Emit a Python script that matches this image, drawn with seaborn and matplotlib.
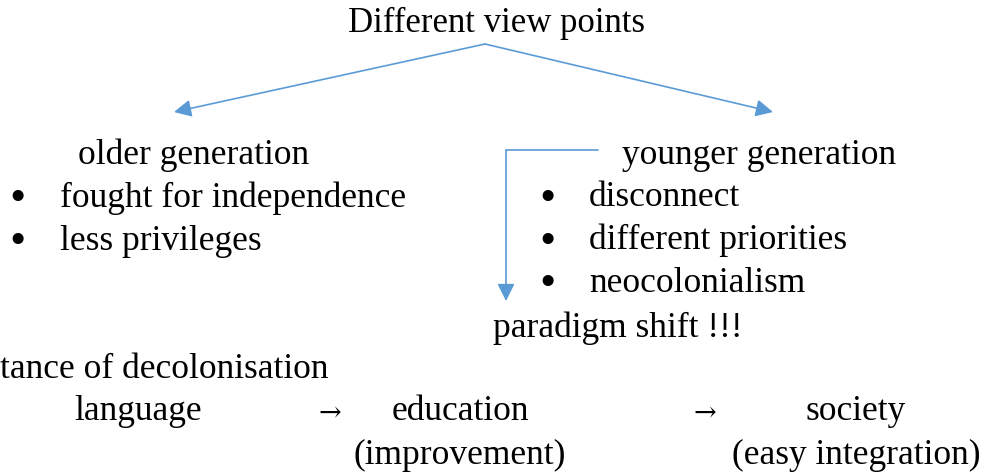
import numpy as np
import seaborn as sns
import matplotlib.pyplot as plt

sns.set_theme(style="white")
plt.rcParams['font.family'] = ['Liberation Serif', 'DejaVu Serif']
plt.rcParams['text.color'] = 'black'

title = "Different view points"
older_head = "older generation"
older_points = ["fought for independence", "less privileges"]
younger_head = "younger generation"
younger_points = ["disconnect", "different priorities", "neocolonialism"]
shift_label = "paradigm shift !!!"
importance_label = "tance of decolonisation"
chain_items = ["language", "education", "society"]
chain_notes = ["", "(improvement)", "(easy integration)"]

blue = "#5B9BD5"
fs = 25.5

fig = plt.figure(figsize=(9.84, 4.72), dpi=100)
ax = fig.add_axes([0, 0, 1, 1])
ax.set_xlim(0, 984)
ax.set_ylim(472, 0)
ax.axis('off')

ax.text(497, 23, title, ha='center', va='center', fontsize=fs - 0.5)

arrow_kw = dict(arrowstyle='-|>', color=blue, lw=1.2, mutation_scale=26,
                shrinkA=0, shrinkB=0)
ax.annotate("", xy=(174, 112), xytext=(485, 44), arrowprops=arrow_kw)
ax.annotate("", xy=(773, 112), xytext=(485, 44), arrowprops=arrow_kw)

ax.text(78, 155, older_head, ha='left', va='center', fontsize=fs)
for i, p in enumerate(older_points):
    y = 198 + i * 43
    ax.text(18, y + 2, "•", ha='center', va='center', fontsize=fs + 8)
    ax.text(60, y, p, ha='left', va='center', fontsize=fs)

ax.text(622, 155, younger_head, ha='left', va='center', fontsize=fs)
for i, p in enumerate(younger_points):
    y = 198 + i * 42.5
    ax.text(548, y + 2, "•", ha='center', va='center', fontsize=fs + 8)
    ax.text(589, y, p, ha='left', va='center', fontsize=fs)

ax.plot([598, 506], [150, 150], color=blue, lw=1.2)
ax.annotate("", xy=(506, 301), xytext=(506, 150), arrowprops=arrow_kw)

ax.text(493, 328, shift_label, ha='left', va='center', fontsize=fs)
ax.text(0, 370, importance_label, ha='left', va='center', fontsize=fs)

item_x = [138, 460, 856]
for i, (item, note) in enumerate(zip(chain_items, chain_notes)):
    ax.text(item_x[i], 412, item, ha='center', va='center', fontsize=fs)
    if note:
        ax.text(item_x[i], 455, note, ha='center', va='center', fontsize=fs)
for x in [330, 705]:
    ax.text(x, 414, "→", ha='center', va='center', fontsize=fs - 6,
            family=['DejaVu Serif'])

fig.savefig("out.png", dpi=100)
